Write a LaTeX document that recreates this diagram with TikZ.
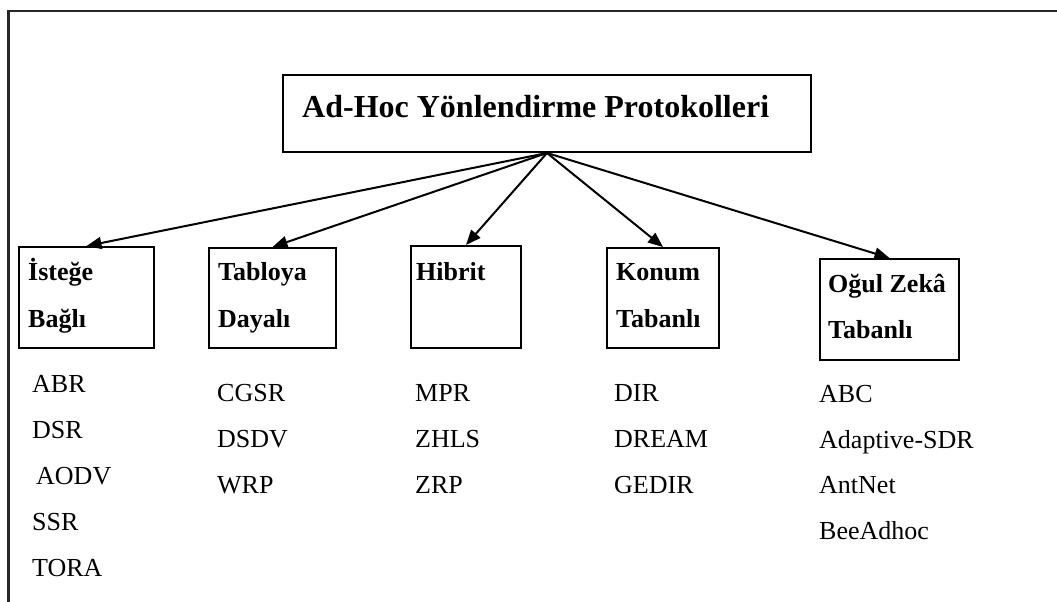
\documentclass[tikz,border=0pt]{standalone}
\usepackage{fontspec}
\setmainfont{Liberation Serif}
\usetikzlibrary{arrows.meta}

\tikzset{
  box/.style={draw=black, line width=2pt, inner sep=0pt, anchor=north west},
  head/.style={font=\fontsize{32}{38}\selectfont\bfseries, inner sep=0pt, anchor=base west},
  cat/.style={font=\fontsize{26}{30}\selectfont\bfseries, inner sep=0pt, anchor=base west},
  item/.style={font=\fontsize{26}{30}\selectfont, inner sep=0pt, anchor=base west},
  arr/.style={line width=2pt, -{Triangle[length=15pt,width=12pt]}},
  frame/.style={draw=black!85, line width=2.5pt}
}

\begin{document}
\begin{tikzpicture}[x=1pt,y=-1pt]
\useasboundingbox (0,0) rectangle (1057,602);

% outer frame (top and left edges)
\draw[frame] (1057,11) -- (8.5,11) -- (8.5,602);

% root
\node[box, minimum width=528pt, minimum height=77pt] (root) at (282,74) {};
\node[head] (roottext) at (302,117) {Ad-Hoc Yönlendirme Protokolleri};

% category boxes
\node[box, minimum width=135pt, minimum height=101pt] (ist) at (18,246) {};
\node[box, minimum width=127pt, minimum height=100pt] (tab) at (208,247) {};
\node[box, minimum width=110pt, minimum height=102pt] (hib) at (410,245) {};
\node[box, minimum width=112pt, minimum height=100pt] (kon) at (606,247) {};
\node[box, minimum width=139pt, minimum height=101pt] (ogu) at (819,258) {};

% category labels
\node[cat] (ist1) at (28,280) {İsteğe};
\node[cat] (ist2) at (28,327) {Bağlı};
\node[cat] (tab1) at (218,280) {Tabloya};
\node[cat] (tab2) at (218,327) {Dayalı};
\node[cat] (hib1) at (416,280) {Hibrit};
\node[cat] (kon1) at (616,280) {Konum};
\node[cat] (kon2) at (616,327) {Tabanlı};
\node[cat] (ogu1) at (828,292) {Oğul Zekâ};
\node[cat] (ogu2) at (828,338) {Tabanlı};

% connectors
\coordinate (hub) at (root.south);
\draw[arr] (hub) -- (ist.north);
\draw[arr] (hub) -- (tab.north);
\draw[arr] (hub) -- (hib.north);
\draw[arr] (hub) -- (kon.north);
\draw[arr] (hub) -- (ogu.north);

% protocol lists
\node[item] (abr)  at (32,392) {ABR};
\node[item] (dsr)  at (32,438) {DSR};
\node[item] (aodv) at (36,484) {AODV};
\node[item] (ssr)  at (32,530) {SSR};
\node[item] (tora) at (32,576) {TORA};

\node[item] (cgsr) at (217,401) {CGSR};
\node[item] (dsdv) at (217,447) {DSDV};
\node[item] (wrp)  at (217,493) {WRP};

\node[item] (mpr)  at (415,401) {MPR};
\node[item] (zhls) at (415,447) {ZHLS};
\node[item] (zrp)  at (415,493) {ZRP};

\node[item] (dir)   at (614,401) {DIR};
\node[item] (dream) at (614,447) {DREAM};
\node[item] (gedir) at (614,493) {GEDIR};

\node[item] (abc)  at (819,402) {ABC};
\node[item] (asdr) at (819,448) {Adaptive-SDR};
\node[item] (ant)  at (819,493) {AntNet};
\node[item] (bee)  at (819,539) {BeeAdhoc};
\end{tikzpicture}
\end{document}
